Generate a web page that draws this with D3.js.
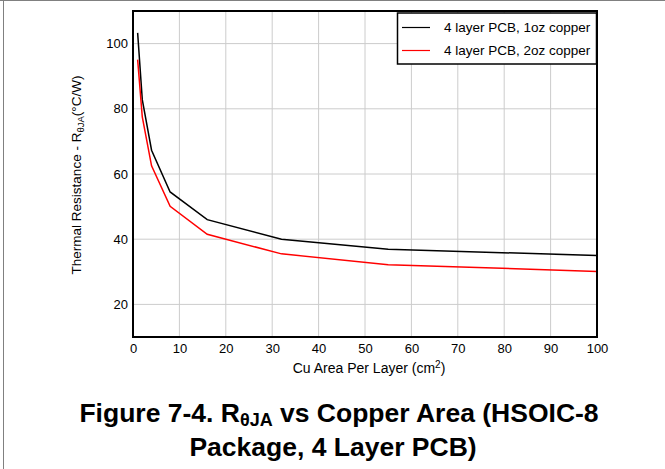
<!DOCTYPE html>
<html>
<head>
<meta charset="utf-8">
<script src="https://cdn.jsdelivr.net/npm/d3@7"></script>
<style>
  html, body { margin: 0; padding: 0; background: #fff; }
  svg { display: block; font-family: "Liberation Sans", Arial, sans-serif; }
</style>
</head>
<body>
<svg id="chart" width="665" height="469"></svg>
<script>
// ---- data ----
const cuArea = [1, 2, 4, 8, 16, 32, 55, 100];
const oz1Values = [103.3, 82.8, 67.3, 54.5, 46.0, 40.0, 36.9, 35.0];
const oz2Values = [95.1, 77.5, 62.5, 50.1, 41.5, 35.5, 32.2, 30.1];
const seriesNames = ["4 layer PCB, 1oz copper", "4 layer PCB, 2oz copper"];
const seriesColors = ["#000000", "#ff0000"];
const xTicks = [0, 10, 20, 30, 40, 50, 60, 70, 80, 90, 100];
const yTicks = [20, 40, 60, 80, 100];

const svg = d3.select("#chart");
const W = 665, H = 469;
const m = { left: 133, top: 11, right: 597, bottom: 337 };

const x = d3.scaleLinear().domain([0, 100]).range([m.left, m.right]);
const y = d3.scaleLinear().domain([10, 110]).range([m.bottom, m.top]);

// outer frame lines (gray)
svg.append("line").attr("x1", 0).attr("x2", W).attr("y1", 0.5).attr("y2", 0.5)
  .attr("stroke", "#808080").attr("stroke-width", 1);
svg.append("line").attr("x1", 3.5).attr("x2", 3.5).attr("y1", 0).attr("y2", H)
  .attr("stroke", "#808080").attr("stroke-width", 1);

// grid
const grid = svg.append("g");
grid.selectAll("line.vx").data(xTicks.filter(d => d > 0 && d < 100)).enter().append("line")
  .attr("x1", d => x(d)).attr("x2", d => x(d))
  .attr("y1", m.top).attr("y2", m.bottom)
  .attr("stroke", "#cccccc").attr("stroke-width", 1);
grid.selectAll("line.hy").data(yTicks).enter().append("line")
  .attr("x1", m.left).attr("x2", m.right)
  .attr("y1", d => y(d)).attr("y2", d => y(d))
  .attr("stroke", "#cccccc").attr("stroke-width", 1);

// axes (labels only)
const xAxis = svg.append("g").attr("transform", `translate(0,${m.bottom})`)
  .call(d3.axisBottom(x).tickValues(xTicks).tickSize(0).tickPadding(7));
const yAxis = svg.append("g").attr("transform", `translate(${m.left},0)`)
  .call(d3.axisLeft(y).tickValues(yTicks).tickSize(0).tickPadding(5));
[xAxis, yAxis].forEach(a => {
  a.select(".domain").remove();
  a.selectAll("text").attr("font-size", 13).attr("fill", "#000")
    .attr("font-family", "Liberation Sans, Arial, sans-serif");
});

// lines
const line = d3.line().x((d, i) => x(cuArea[i])).y(d => y(d));
[oz1Values, oz2Values].forEach((vals, k) => {
  svg.append("path").datum(vals).attr("d", line)
    .attr("fill", "none").attr("stroke", seriesColors[k]).attr("stroke-width", 1.5);
});

// plot frame
svg.append("rect").attr("x", m.left).attr("y", m.top)
  .attr("width", m.right - m.left).attr("height", m.bottom - m.top)
  .attr("fill", "none").attr("stroke", "#000").attr("stroke-width", 2);

// legend
const lg = svg.append("g");
lg.append("rect").attr("x", 397.5).attr("y", 13).attr("width", 199).attr("height", 51)
  .attr("fill", "#fff").attr("stroke", "#000").attr("stroke-width", 1.5);
seriesNames.forEach((name, i) => {
  const cy = 27.5 + i * 23;
  lg.append("line").attr("x1", 402).attr("x2", 430).attr("y1", cy).attr("y2", cy)
    .attr("stroke", seriesColors[i]).attr("stroke-width", 1.2);
  lg.append("text").attr("x", 444).attr("y", cy + 4.5).attr("font-size", 13.5)
    .attr("fill", "#000").text(name);
});

// x axis label
const xl = svg.append("text").attr("x", 369).attr("y", 373).attr("text-anchor", "middle")
  .attr("font-size", 14).attr("fill", "#000");
xl.append("tspan").text("Cu Area Per Layer (cm");
xl.append("tspan").attr("dy", -5).attr("font-size", 10).text("2");
xl.append("tspan").attr("dy", 5).text(")");

// y axis label
const yl = svg.append("text").attr("transform", "translate(80.5,175) rotate(-90)")
  .attr("text-anchor", "middle").attr("font-size", 13.5).attr("fill", "#000");
yl.append("tspan").text("Thermal Resistance - R");
yl.append("tspan").attr("dy", 3).attr("font-size", 9.5).text("θJA");
yl.append("tspan").attr("dy", -3).text("(°C/W)");

// title
const t1 = svg.append("text").attr("x", 339).attr("y", 421.5).attr("text-anchor", "middle")
  .attr("font-size", 26.5).attr("font-weight", "bold").attr("fill", "#000");
t1.append("tspan").text("Figure 7-4. R");
t1.append("tspan").attr("dy", 4).attr("font-size", 18).text("θJA");
t1.append("tspan").attr("dy", -4).text(" vs Copper Area (HSOIC-8");
svg.append("text").attr("x", 333).attr("y", 456).attr("text-anchor", "middle")
  .attr("font-size", 26.5).attr("font-weight", "bold").attr("fill", "#000")
  .text("Package, 4 Layer PCB)");
</script>
</body>
</html>
